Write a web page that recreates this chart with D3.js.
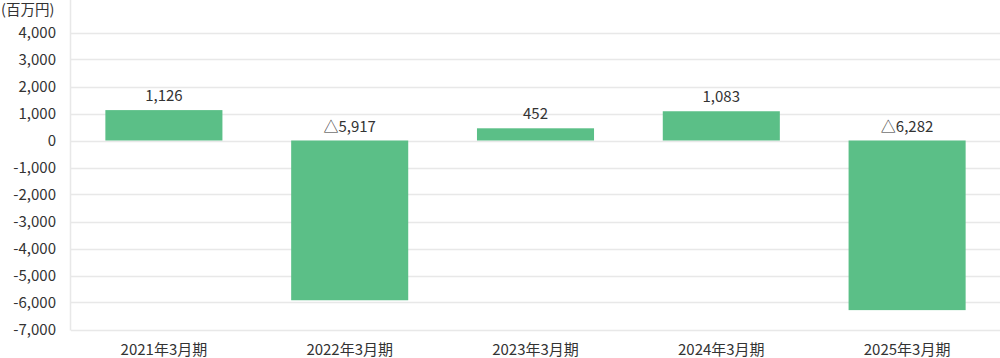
<!DOCTYPE html>
<html><head><meta charset="utf-8">
<script src="https://cdn.jsdelivr.net/npm/d3@7"></script>
<style>body{margin:0;background:#fff}svg{display:block;font-family:"Noto Sans CJK JP","Noto Sans",sans-serif}</style>
</head><body><svg id="c" width="1000" height="358"></svg>
<script>
const categories = ["2021年3月期","2022年3月期","2023年3月期","2024年3月期","2025年3月期"];
const values = [1126, -5917, 452, 1083, -6282];
const tickValues = [4000,3000,2000,1000,0,-1000,-2000,-3000,-4000,-5000,-6000,-7000];
const unitLabel = "(百万円)";

(function(){
const svg = d3.select("#c");
const mLeft = 71, mRight = 1000, mTop = 5.5, mBottom = 329.5;
const y = d3.scaleLinear().domain([-7000, 5000]).range([mBottom, mTop]);
const x = d3.scaleBand().domain(categories).range([mLeft, mRight]).paddingInner(0.37).paddingOuter(0.185);
const fmt = d3.format(",");
const FF = "'Noto Sans CJK JP','Noto Sans',sans-serif";

// grid
svg.append("g").selectAll("line").data(tickValues).join("line")
  .attr("x1", mLeft).attr("x2", mRight)
  .attr("y1", d => Math.round(y(d)) + 0.5).attr("y2", d => Math.round(y(d)) + 0.5)
  .attr("stroke", "#e8e8e8").attr("stroke-width", 1.5);
svg.append("line").attr("x1", mLeft - 0.5).attr("x2", mLeft - 0.5).attr("y1", 0).attr("y2", mBottom + 1)
  .attr("stroke", "#e8e8e8").attr("stroke-width", 1.5);

// y axis labels
const yAxis = d3.axisLeft(y).tickValues(tickValues).tickFormat(d => fmt(d).replace("−","-")).tickSize(0).tickPadding(15);
const ga = svg.append("g").attr("transform", `translate(${mLeft},0)`).call(yAxis);
ga.select(".domain").remove();
ga.selectAll("text").attr("font-size", 15).attr("fill", "#333").attr("font-family", FF);

svg.append("text").attr("x", 1).attr("y", 11).attr("dominant-baseline", "middle")
  .attr("font-size", 14.5).attr("fill", "#333").text(unitLabel);

// bars
svg.append("g").selectAll("rect").data(values).join("rect")
  .attr("x", (d, i) => x(categories[i]))
  .attr("width", x.bandwidth())
  .attr("y", d => y(Math.max(0, d)))
  .attr("height", d => Math.abs(y(d) - y(0)))
  .attr("fill", "#5bbf87");

// value labels
svg.append("g").selectAll("text").data(values).join("text")
  .attr("x", (d, i) => x(categories[i]) + x.bandwidth() / 2)
  .attr("y", d => (d >= 0 ? y(d) : y(0)) - 9)
  .attr("text-anchor", "middle").attr("font-size", 15).attr("fill", "#333")
  .text(d => d < 0 ? "△" + fmt(-d) : fmt(d));

// x axis labels
const xAxis = d3.axisBottom(x).tickSize(0).tickPadding(15);
const gx = svg.append("g").attr("transform", `translate(0,${mBottom})`).call(xAxis);
gx.select(".domain").remove();
gx.selectAll("text").attr("font-size", 15).attr("fill", "#333").attr("font-family", FF);
})();
</script></body></html>
